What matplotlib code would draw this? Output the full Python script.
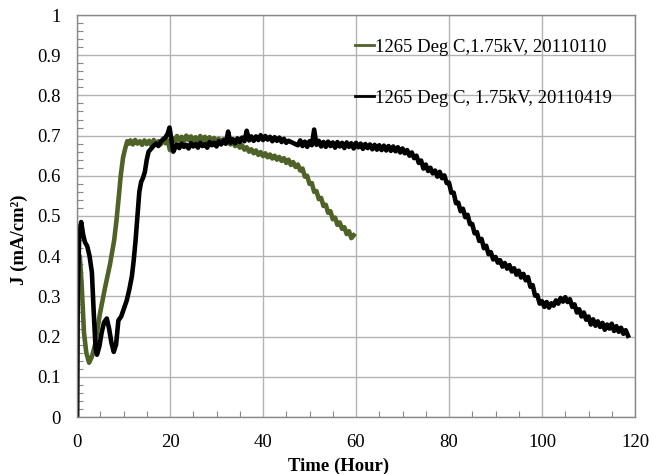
import matplotlib
matplotlib.use("Agg")
import matplotlib.pyplot as plt
from matplotlib.ticker import MultipleLocator

# ---- data ----
label_a = "1265 Deg C,1.75kV, 20110110"
label_b = "1265 Deg C, 1.75kV, 20110419"

t_a = [0.0, 0.1, 0.6, 1.0, 1.5, 2.0, 2.6, 3.2, 3.9, 4.9, 6.0, 7.1, 8.0, 8.5, 9.0, 9.4, 9.9, 10.3, 10.8, 11.2,
       11.5, 12.0, 12.5, 13.0, 13.5, 14.0, 14.5, 15.0, 15.5, 16.0, 16.5, 17.0, 17.5, 18.0, 18.5, 19.0, 19.5, 20.0,
       20.5, 21.0, 21.5, 22.0, 22.5, 23.0, 23.5, 24.0, 24.5, 25.0, 25.5, 26.0, 26.5, 27.0, 27.5, 28.0, 28.5, 29.0,
       29.5, 30.0, 30.5, 31.0, 31.5, 32.0, 32.5, 33.0, 33.5, 34.0, 34.5, 35.0, 35.5, 36.0, 36.5, 37.0, 37.5, 38.0,
       38.5, 39.0, 39.5, 40.0, 40.5, 41.0, 41.5, 42.0, 42.5, 43.0, 43.5, 44.0, 44.5, 45.0, 45.5, 46.0, 46.5, 47.0,
       47.5, 48.0, 48.5, 49.0, 49.5, 50.0, 50.5, 51.0, 51.5, 52.0, 52.5, 53.0, 53.5, 54.0, 54.5, 55.0, 55.5, 56.0,
       56.5, 57.0, 57.5, 58.0, 58.5, 59.0, 59.5]
j_a = [0.00, 0.37, 0.40, 0.33, 0.21, 0.16, 0.135, 0.15, 0.18, 0.255, 0.32, 0.38, 0.44, 0.49, 0.55, 0.60, 0.645, 0.665, 0.686, 0.680,
       0.688, 0.678, 0.689, 0.680, 0.686, 0.677, 0.688, 0.679, 0.687, 0.676, 0.689, 0.680, 0.686, 0.678, 0.692, 0.681, 0.688, 0.664,
       0.694, 0.686, 0.699, 0.688, 0.697, 0.686, 0.700, 0.689, 0.698, 0.687, 0.696, 0.686, 0.699, 0.688, 0.697, 0.686, 0.696, 0.685,
       0.694, 0.684, 0.692, 0.682, 0.691, 0.680, 0.689, 0.678, 0.685, 0.674, 0.681, 0.670, 0.676, 0.665, 0.671, 0.660, 0.666, 0.656,
       0.663, 0.652, 0.659, 0.649, 0.656, 0.646, 0.653, 0.643, 0.650, 0.640, 0.647, 0.637, 0.644, 0.632, 0.640, 0.627, 0.634, 0.622,
       0.628, 0.613, 0.618, 0.598, 0.600, 0.580, 0.582, 0.560, 0.562, 0.542, 0.545, 0.525, 0.528, 0.508, 0.512, 0.492, 0.496, 0.478,
       0.484, 0.468, 0.472, 0.455, 0.462, 0.445, 0.452]

t_b = [0.0, 0.15, 0.5, 0.9, 1.3, 1.7, 2.2, 2.7, 3.2, 3.6, 4.0, 4.3, 4.8, 5.3, 5.8, 6.4, 6.9, 7.4, 7.9, 8.4, 8.9, 9.5,
       10.1, 10.7, 11.3, 11.8, 12.2, 12.6, 13.0, 13.4, 13.8, 14.2, 14.6, 15.0, 15.4, 16.0, 16.5, 17.0, 17.5, 18.0,
       18.5, 19.0, 19.5, 19.9, 20.3, 20.7, 21.2,
       21.5, 22.0, 22.5, 23.0, 23.5, 24.0, 24.5, 25.0, 25.5, 26.0, 26.5, 27.0, 27.5, 28.0, 28.5, 29.0, 29.5, 30.0,
       30.5, 31.0, 31.5, 32.0, 32.5, 33.0, 33.5, 34.0, 34.5, 35.0, 35.5, 36.0, 36.5, 37.0, 37.5, 38.0, 38.5, 39.0,
       39.5, 40.0, 40.5, 41.0, 41.5, 42.0, 42.5, 43.0, 43.5, 44.0, 44.5, 45.0, 45.5, 47.5,
       48.0, 48.5, 49.0, 49.5, 50.0, 50.5, 51.0, 51.5, 52.0, 52.5, 53.0, 53.5, 54.0, 54.5, 55.0, 55.5, 56.0, 56.5,
       57.0, 57.5, 58.0, 58.5, 59.0, 59.5, 60.0, 60.5, 61.0, 61.5, 62.0, 62.5, 63.0, 63.5, 64.0, 64.5, 65.0, 65.5,
       66.0, 66.5, 67.0, 67.5, 68.0, 68.5, 69.0, 69.5, 70.0, 70.5, 71.0, 71.5, 72.0, 72.5, 73.0, 73.5, 74.0, 74.5,
       75.0, 75.5, 76.0, 76.5, 77.0, 77.5, 78.0, 78.5, 79.0, 79.5, 80.0, 80.5, 81.0, 81.5, 82.0, 82.5, 83.0, 83.5,
       84.0, 84.5, 85.0, 85.5, 86.0, 86.5, 87.0, 87.5, 88.0, 88.5, 89.0, 89.5, 90.0, 90.5, 91.0, 91.5, 92.0, 92.5,
       93.0, 93.5, 94.0, 94.5, 95.0, 95.5, 96.0, 96.5, 97.0, 97.5, 98.0, 98.5, 99.0, 99.5, 100.0, 100.5, 101.0,
       101.5, 102.0, 102.5, 103.0, 103.5, 104.0, 104.5, 105.0, 105.5, 106.0, 106.5, 107.0, 107.5, 108.0, 108.5,
       109.0, 109.5, 110.0, 110.5, 111.0, 111.5, 112.0, 112.5, 113.0, 113.5, 114.0, 114.5, 115.0, 115.5, 116.0,
       116.5, 117.0, 117.5, 118.0, 118.5]
j_b = [0.00, 0.30, 0.46, 0.485, 0.455, 0.435, 0.425, 0.40, 0.36, 0.26, 0.17, 0.155, 0.175, 0.21, 0.235, 0.245, 0.22, 0.185, 0.162, 0.18, 0.24, 0.25,
       0.27, 0.29, 0.32, 0.35, 0.39, 0.44, 0.50, 0.56, 0.585, 0.595, 0.61, 0.64, 0.66, 0.668, 0.675, 0.68, 0.674, 0.685,
       0.69, 0.695, 0.705, 0.72, 0.69, 0.66, 0.672,
       0.678, 0.669, 0.680, 0.672, 0.677, 0.668, 0.681, 0.673, 0.679, 0.670, 0.682, 0.674, 0.679, 0.670, 0.684, 0.676, 0.682, 0.673,
       0.686, 0.678, 0.688, 0.680, 0.710, 0.682, 0.691, 0.681, 0.693, 0.684, 0.695, 0.686, 0.712, 0.688, 0.698, 0.687, 0.698, 0.689,
       0.701, 0.689, 0.699, 0.690, 0.697, 0.686, 0.696, 0.687, 0.695, 0.684, 0.692, 0.682, 0.687, 0.676,
       0.688, 0.674, 0.685, 0.672, 0.686, 0.676, 0.715, 0.677, 0.687, 0.673, 0.684, 0.672, 0.685, 0.674, 0.683, 0.670, 0.684, 0.673,
       0.682, 0.669, 0.683, 0.672, 0.681, 0.668, 0.682, 0.671, 0.680, 0.667, 0.679, 0.669, 0.678, 0.666, 0.677, 0.665, 0.676, 0.664,
       0.675, 0.663, 0.674, 0.662, 0.673, 0.661, 0.671, 0.658, 0.668, 0.656, 0.664, 0.650, 0.658, 0.644, 0.650, 0.632, 0.638, 0.618,
       0.628, 0.612, 0.620, 0.606, 0.613, 0.598, 0.610, 0.594, 0.601, 0.582, 0.583, 0.558, 0.558, 0.532, 0.533, 0.512, 0.518, 0.497,
       0.503, 0.480, 0.480, 0.457, 0.460, 0.438, 0.443, 0.420, 0.426, 0.405, 0.410, 0.392, 0.398, 0.384, 0.390, 0.374, 0.383, 0.369,
       0.378, 0.362, 0.370, 0.354, 0.364, 0.347, 0.356, 0.340, 0.348, 0.324, 0.328, 0.302, 0.303, 0.282, 0.288, 0.274, 0.286,
       0.272, 0.283, 0.277, 0.290, 0.282, 0.296, 0.287, 0.298, 0.286, 0.293, 0.274, 0.280, 0.260, 0.268, 0.250,
       0.260, 0.242, 0.250, 0.230, 0.243, 0.227, 0.238, 0.224, 0.234, 0.217, 0.230, 0.220, 0.232, 0.214, 0.226,
       0.212, 0.222, 0.207, 0.216, 0.202]

x_ticks = [0, 20, 40, 60, 80, 100, 120]
y_ticks = [0, 0.1, 0.2, 0.3, 0.4, 0.5, 0.6, 0.7, 0.8, 0.9, 1.0]
y_tick_labels = ["0", "0.1", "0.2", "0.3", "0.4", "0.5", "0.6", "0.7", "0.8", "0.9", "1"]

# ---- figure ----
plt.rcParams["font.family"] = ["Liberation Serif", "DejaVu Serif"]
fig = plt.figure(figsize=(6.53, 4.74), dpi=100)
ax = fig.add_axes([77 / 653, 57 / 474, 558 / 653, 402 / 474])

green = "#4f6228"
ax.plot(t_a, j_a, color=green, lw=3.3, label=label_a)
ax.plot(t_b, j_b, color="black", lw=3.3, label=label_b)

ax.set_xlim(0, 120)
ax.set_ylim(0, 1)
ax.set_xticks(x_ticks)
ax.set_xticklabels([str(v) for v in x_ticks])
ax.set_yticks(y_ticks)
ax.set_yticklabels(y_tick_labels)
ax.xaxis.set_minor_locator(MultipleLocator(5))
ax.yaxis.set_minor_locator(MultipleLocator(0.02))
ax.tick_params(which="major", length=0, labelsize=13.5, pad=12, colors="black")
ax.tick_params(which="minor", direction="in", length=4, color="#888888", width=0.8)

ax.grid(True, which="major", color="#b3b3b3", lw=1.0)
ax.set_axisbelow(True)
for s in ax.spines.values():
    s.set_color("#888888")
    s.set_linewidth(1.0)

ax.set_xlabel("Time (Hour)", fontsize=13.5, fontweight="bold")
ax.set_ylabel("J (mA/cm\u00b2)", fontsize=13.5, fontweight="bold")
ax.xaxis.set_label_coords(0.469, -0.1)
ax.yaxis.set_label_coords(-0.088, 0.44)

leg = ax.legend(loc="upper left", bbox_to_anchor=(0.485, 0.96), frameon=False,
                fontsize=13.5, handlelength=1.0, handletextpad=0.05, labelspacing=1.8,
                borderaxespad=0)
for h in leg.get_lines():
    h.set_linewidth(2.0)

fig.savefig("out.png", dpi=100)
